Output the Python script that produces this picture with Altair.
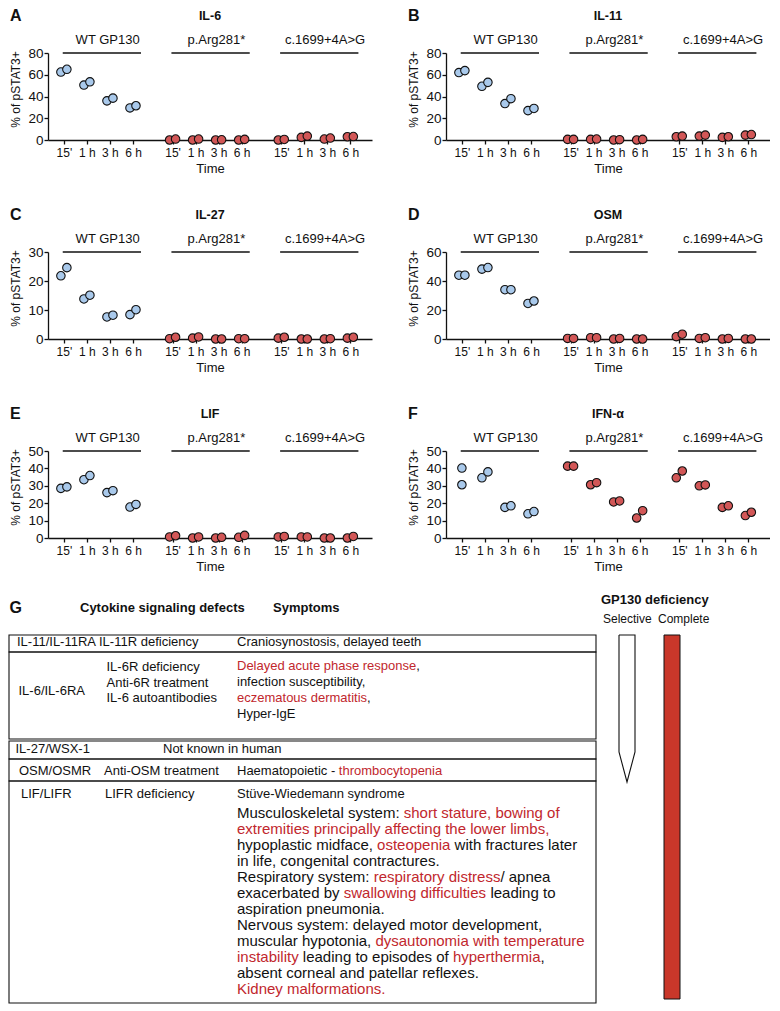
import json
import altair as alt
import pandas as pd

# ---------------------------------------------------------------- data
TIME_LABELS = ["15'", "1 h", "3 h", "6 h"]
GROUP_LABELS = ["WT GP130", "p.Arg281*", "c.1699+4A>G"]

PANEL_LETTERS = ["A", "B", "C", "D", "E", "F"]
PANEL_TITLES = ["IL-6", "IL-11", "IL-27", "OSM", "LIF", "IFN-α"]
Y_MAX = [80, 80, 30, 60, 50, 50]
Y_TICKS = [
    [0, 20, 40, 60, 80],
    [0, 20, 40, 60, 80],
    [0, 10, 20, 30],
    [0, 20, 40, 60],
    [0, 10, 20, 30, 40, 50],
    [0, 10, 20, 30, 40, 50],
]

# 12 time points per panel: WT GP130 (15', 1 h, 3 h, 6 h), p.Arg281* (...), c.1699+4A>G (...)
IL6_REP1 = [62.5, 50.5, 36.0, 29.5, 0.0, 0.0, 0.0, 0.0, 0.0, 2.4, 0.9, 3.0]
IL6_REP2 = [65.0, 53.5, 38.5, 31.5, 0.9, 0.9, 0.2, 0.6, 0.5, 3.6, 1.8, 3.2]
IL11_REP1 = [62.0, 49.4, 33.5, 27.0, 0.6, 0.6, 0.0, 0.0, 3.0, 3.6, 2.4, 4.5]
IL11_REP2 = [63.8, 53.0, 38.0, 29.0, 0.6, 0.9, 0.3, 0.6, 3.6, 4.5, 3.0, 5.0]
IL27_REP1 = [21.8, 13.8, 7.6, 8.4, 0.1, 0.3, 0.0, 0.1, 0.3, 0.0, 0.0, 0.3]
IL27_REP2 = [24.6, 15.1, 8.2, 10.1, 0.6, 0.7, 0.0, 0.1, 0.6, 0.0, 0.1, 0.6]
OSM_REP1 = [44.0, 48.2, 34.0, 24.5, 0.4, 0.9, 0.0, 0.0, 1.6, 0.4, 0.0, 0.0]
OSM_REP2 = [44.0, 49.3, 34.0, 26.2, 0.4, 0.9, 0.4, 0.0, 3.3, 0.9, 0.4, 0.0]
LIF_REP1 = [28.5, 33.5, 26.1, 17.8, 0.6, 0.0, 0.0, 0.4, 0.6, 0.6, 0.0, 0.0]
LIF_REP2 = [29.4, 35.9, 27.2, 19.3, 1.3, 0.6, 0.4, 1.5, 0.9, 0.6, 0.0, 0.9]
IFN_REP1 = [40.2, 34.6, 17.6, 13.9, 41.3, 30.6, 20.7, 11.5, 34.6, 30.0, 17.6, 12.9]
IFN_REP2 = [30.6, 38.0, 18.5, 15.2, 41.3, 31.8, 21.3, 15.7, 38.5, 30.5, 18.5, 14.8]

REP1 = [IL6_REP1, IL11_REP1, IL27_REP1, OSM_REP1, LIF_REP1, IFN_REP1]
REP2 = [IL6_REP2, IL11_REP2, IL27_REP2, OSM_REP2, LIF_REP2, IFN_REP2]
SAME_X = [[], [], [], [], [], [0]]  # time points whose two replicates are stacked

# table (panel G)
TABLE_HEADERS = ["Cytokine signaling defects", "Symptoms", "GP130 deficiency"]
DEFICIENCY_KINDS = ["Selective", "Complete"]
RECEPTORS = ["IL-11/IL-11RA", "IL-6/IL-6RA", "IL-27/WSX-1", "OSM/OSMR", "LIF/LIFR"]
DEFECTS = [
    ["IL-11R deficiency"],
    ["IL-6R deficiency", "Anti-6R treatment", "IL-6 autoantibodies"],
    ["Not known in human"],
    ["Anti-OSM treatment"],
    ["LIFR deficiency"],
]
# symptom lines: list of (text, is_red) segments
SYMPTOMS_SMALL = [
    [("Craniosynostosis, delayed teeth", 0)],
    [("Delayed acute phase response", 1), (",", 0)],
    [("infection susceptibility,", 0)],
    [("eczematous dermatitis", 1), (",", 0)],
    [("Hyper-IgE", 0)],
    [("Haematopoietic - ", 0), ("thrombocytopenia", 1)],
    [("Stüve-Wiedemann syndrome", 0)],
]
SYMPTOMS_LARGE = [
    [("Musculoskeletal system: ", 0), ("short stature, bowing of", 1)],
    [("extremities principally affecting the lower limbs,", 1)],
    [("hypoplastic midface, ", 0), ("osteopenia", 1), (" with fractures later", 0)],
    [("in life, congenital contractures.", 0)],
    [("Respiratory system: ", 0), ("respiratory distress", 1), ("/ apnea", 0)],
    [("exacerbated by ", 0), ("swallowing difficulties", 1), (" leading to", 0)],
    [("aspiration pneumonia.", 0)],
    [("Nervous system: delayed motor development,", 0)],
    [("muscular hypotonia, ", 0), ("dysautonomia with temperature", 1)],
    [("instability", 1), (" leading to episodes of ", 0), ("hyperthermia", 1), (",", 0)],
    [("absent corneal and patellar reflexes.", 0)],
    [("Kidney malformations.", 1)],
]

# ---------------------------------------------------------------- style / layout
INK = "#111111"
BLUE = "#a9c9eb"
RED = "#d25757"
TXT_RED = "#c1272d"
BAR_RED = "#c9372a"
FONT = "Liberation Sans"

W, H = 324, 87
COL_GAP, ROW_GAP = 74, 112
GROUP_STEP = 4.72
X_DOMAIN = [-0.69, 13.38]
REP_SHIFT = 0.13


def panel(i):
    ymax = Y_MAX[i]
    rows = []
    for k in range(12):
        g, t = divmod(k, 4)
        base = g * GROUP_STEP + t
        for r, vals in enumerate((REP1[i], REP2[i])):
            dx = 0.0 if k in SAME_X[i] else (-REP_SHIFT if r == 0 else REP_SHIFT)
            rows.append({"x": base + dx, "y": vals[k], "kind": "wt" if g == 0 else "mut"})
    pts = pd.DataFrame(rows)
    lines = pd.DataFrame({
        "x": [g * GROUP_STEP - 0.05 for g in range(3)],
        "x2": [g * GROUP_STEP + 3.35 for g in range(3)],
        "y": [ymax] * 3,
    })
    glab = pd.DataFrame({
        "x": [g * GROUP_STEP + 1.9 for g in range(3)],
        "y": [ymax] * 3,
        "label": GROUP_LABELS,
    })
    ttl = pd.DataFrame({"x": [(X_DOMAIN[0] + X_DOMAIN[1]) / 2], "y": [ymax], "text": [PANEL_TITLES[i]]})
    let = pd.DataFrame({"x": [X_DOMAIN[0]], "y": [ymax], "text": [PANEL_LETTERS[i]]})

    tick_vals = [g * GROUP_STEP + t for g in range(3) for t in range(4)]
    label_expr = (
        f"{json.dumps(TIME_LABELS)}[round(datum.value - {GROUP_STEP}*"
        f"floor((datum.value + 0.5)/{GROUP_STEP}))]"
    )
    xaxis = alt.Axis(
        values=tick_vals, labelExpr=label_expr, title="Time", grid=False,
        labelFontSize=12, labelPadding=3, tickSize=4, labelOverlap=False,
        labelFlush=False, titleFontSize=13, titleFontWeight="normal",
        titleY=28, titleBaseline="middle",
    )
    yaxis = alt.Axis(
        values=Y_TICKS[i], title="% of pSTAT3+", grid=False, labelFontSize=13.5,
        labelPadding=1, tickSize=4, titleFontSize=12, titleFontWeight="normal",
        titleAngle=270, titleX=-33, titleY=36, titleAlign="center",
        titleBaseline="middle",
    )
    X = alt.X("x:Q", scale=alt.Scale(domain=X_DOMAIN, nice=False, zero=False), axis=xaxis)
    Y = alt.Y("y:Q", scale=alt.Scale(domain=[0, ymax], nice=False), axis=yaxis)

    rules = alt.Chart(lines).mark_rule(color=INK, strokeWidth=1.3).encode(
        x=X, x2=alt.X2("x2:Q"), y=Y)
    glabels = alt.Chart(glab).mark_text(dy=-13, fontSize=13, color=INK).encode(
        x=X, y=Y, text="label:N")
    title = alt.Chart(ttl).mark_text(dy=-37, fontSize=12.5, fontWeight="bold", color=INK).encode(
        x=X, y=Y, text="text:N")
    letter = alt.Chart(let).mark_text(dx=-38, dy=-37, align="left", fontSize=16,
                                      fontWeight="bold", color=INK).encode(
        x=X, y=Y, text="text:N")
    dots = alt.Chart(pts).mark_point(shape="circle", filled=True, size=72, stroke=INK,
                                     strokeWidth=1.1, opacity=1).encode(
        x=X, y=Y,
        fill=alt.Fill("kind:N", scale=alt.Scale(domain=["wt", "mut"], range=[BLUE, RED]),
                      legend=None),
    )
    return alt.layer(rules, glabels, title, letter, dots).properties(width=W, height=H)


# ---------------------------------------------------------------- table (G)
ARIAL = {" ": 278, "!": 278, "'": 191, ",": 278, "-": 333, ".": 278, "/": 278, ":": 278,
         "ü": 556, "*": 389, "+": 584}
for c in "0123456789":
    ARIAL[c] = 556
for c, w in zip("ABCDEFGHIJKLMNOPQRSTUVWXYZ",
                [667, 667, 722, 722, 667, 611, 778, 722, 278, 500, 667, 556, 833, 722, 778,
                 667, 778, 722, 667, 611, 722, 667, 944, 667, 667, 611]):
    ARIAL[c] = w
for c, w in zip("abcdefghijklmnopqrstuvwxyz",
                [556, 556, 500, 556, 556, 278, 556, 556, 222, 222, 500, 222, 833, 556, 556,
                 556, 556, 333, 500, 278, 556, 500, 722, 500, 500, 500]):
    ARIAL[c] = w


def text_w(s, size):
    return sum(ARIAL.get(c, 556) for c in s) * size / 1000.0


X0_REF = 42                # reference x of the first panel's plot left edge
T_TOP_REF = 655            # reference y mapped to the top of the table cell
SYM_X = 231
SMALL_Y = [647, 671, 687, 703, 719, 776, 799]
LARGE_Y0, LARGE_STEP = 818, 16

normal = []
bold = []


def add_line(segs, y, size, store):
    cum = 0.0
    for txt, red in segs:
        lead = len(txt) - len(txt.lstrip(" "))
        store.append({"text": txt.strip(" "), "x": SYM_X + cum + text_w(" " * lead, size),
                      "y": y, "size": size, "color": TXT_RED if red else INK})
        cum += text_w(txt, size)


for segs, y in zip(SYMPTOMS_SMALL, SMALL_Y):
    add_line(segs, y, 13, normal)
for j, segs in enumerate(SYMPTOMS_LARGE):
    add_line(segs, LARGE_Y0 + j * LARGE_STEP, 15, normal)

REC_POS = [(11, 647), (12.5, 696), (9.5, 754), (13, 776), (15, 799)]
for name, (x, y) in zip(RECEPTORS, REC_POS):
    normal.append({"text": name, "x": x, "y": y, "size": 13, "color": INK})
DEF_POS = [[(93, 647)], [(100.5, 672), (100.5, 687.5), (100.5, 703)], [(157, 754)],
           [(98, 776)], [(99, 799)]]
for names, poss in zip(DEFECTS, DEF_POS):
    for name, (x, y) in zip(names, poss):
        normal.append({"text": name, "x": x, "y": y, "size": 13, "color": INK})
for name, x in zip(DEFICIENCY_KINDS, [597, 652]):
    normal.append({"text": name, "x": x, "y": 624, "size": 12, "color": INK})

bold.append({"text": "G", "x": 3.5, "y": 613, "size": 16, "color": INK})
for name, (x, y) in zip(TABLE_HEADERS, [(74, 613), (267, 613), (595, 605)]):
    bold.append({"text": name, "x": x, "y": y, "size": 13, "color": INK})

BOX_X = [3, 590]
BOX_Y = [(640, 657), (657, 744), (746, 764), (764, 786), (786, 1008)]
boxes = pd.DataFrame({"x": [BOX_X[0]] * 5, "x2": [BOX_X[1]] * 5,
                      "y": [b[0] for b in BOX_Y], "y2": [b[1] for b in BOX_Y]})
complete_bar = pd.DataFrame({"x": [658], "x2": [674], "y": [640], "y2": [1004]})
selective = pd.DataFrame({"x": [613, 629, 629, 621, 613, 613],
                          "y": [640, 640, 757, 787, 757, 640],
                          "o": list(range(6))})

TX = alt.X("x:Q", scale=alt.Scale(domain=[X0_REF, X0_REF + W], nice=False, zero=False), axis=None)
TY = alt.Y("y:Q", scale=alt.Scale(domain=[T_TOP_REF, T_TOP_REF + H], nice=False, zero=False,
                                  reverse=True), axis=None)

t_boxes = alt.Chart(boxes).mark_rect(fillOpacity=0, stroke=INK, strokeWidth=1.1).encode(
    x=TX, x2="x2:Q", y=TY, y2="y2:Q")
t_bar = alt.Chart(complete_bar).mark_rect(fill=BAR_RED, stroke=INK, strokeWidth=1).encode(
    x=TX, x2="x2:Q", y=TY, y2="y2:Q")
t_sel = alt.Chart(selective).mark_line(color=INK, strokeWidth=1.1).encode(
    x=TX, y=TY, order="o:Q")
t_norm = alt.Chart(pd.DataFrame(normal)).mark_text(align="left", baseline="middle").encode(
    x=TX, y=TY, text="text:N", size=alt.Size("size:Q", scale=None),
    color=alt.Color("color:N", scale=None))
t_bold = alt.Chart(pd.DataFrame(bold)).mark_text(align="left", baseline="middle",
                                                  fontWeight="bold").encode(
    x=TX, y=TY, text="text:N", size=alt.Size("size:Q", scale=None),
    color=alt.Color("color:N", scale=None))
table = alt.layer(t_boxes, t_bar, t_sel, t_norm, t_bold).properties(width=W, height=H)

# ---------------------------------------------------------------- assemble
chart = alt.concat(
    *[panel(i) for i in range(6)], table,
    columns=2, spacing={"row": ROW_GAP, "column": COL_GAP}, bounds="flush", padding=0,
).configure(font=FONT).configure_view(strokeWidth=0).configure_axis(
    domainColor=INK, tickColor=INK, labelColor=INK, titleColor=INK,
    domainWidth=1.3, tickWidth=1.3,
)

chart.save("out.html", embed_options={"renderer": "svg", "actions": False})
